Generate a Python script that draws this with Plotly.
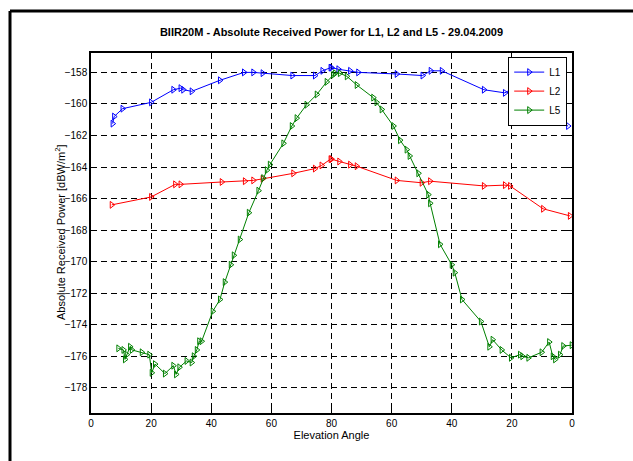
import plotly.graph_objects as go

# Pass axis: 0..80 rising elevation, 80..160 setting elevation
tick_pos = [0, 20, 40, 60, 80, 100, 120, 140, 160]
tick_txt = ["0", "20", "40", "60", "80", "60", "40", "20", "0"]
y_ticks = [-158, -160, -162, -164, -166, -168, -170, -172, -174, -176, -178]

l1_x = [7.2, 7.7, 10.5, 20.0, 27.4, 29.8, 30.7, 33.5, 42.9, 50.9, 54.0, 57.1, 67.0,
        74.5, 77.0, 79.7, 80.0, 82.3, 86.2, 88.9, 101.7, 110.3, 113.0, 116.7, 130.7,
        137.7, 139.4, 142.7, 150.8, 158.7]
l1_y = [-161.25, -160.8, -160.3, -159.9, -159.1, -159.0, -159.1, -159.2, -158.5, -158.0,
        -158.0, -158.05, -158.2, -158.2, -157.9, -157.7, -157.7, -157.8, -157.9, -158.0,
        -158.1, -158.2, -157.9, -157.9, -159.1, -159.3, -159.1, -159.8, -160.8, -161.4]

l2_x = [6.9, 20.0, 28.0, 29.8, 43.5, 51.2, 54.0, 57.1, 67.3, 74.5, 76.7, 79.7, 80.0,
        82.6, 86.2, 88.4, 101.7, 110.0, 112.8, 130.7, 137.7, 139.4, 150.4, 159.3]
l2_y = [-166.4, -165.9, -165.1, -165.1, -164.95, -164.9, -164.85, -164.75, -164.4,
        -164.1, -163.9, -163.5, -163.5, -163.65, -163.85, -163.95, -164.85, -165.0,
        -164.9, -165.2, -165.15, -165.2, -166.65, -167.1]

l5_x = [9.1, 10.8, 11.3, 11.9, 13.0, 13.6, 16.9, 19.4, 20.2, 21.3, 24.6, 27.4, 28.3,
        29.4, 31.8, 33.5, 34.2, 35.2, 36.0, 36.8, 40.5, 42.9, 44.5, 46.5, 47.5, 49.5,
        52.5, 55.7, 57.3, 58.5, 59.5, 64.0, 66.8, 68.4, 71.7, 75.1, 78.4, 80.6, 81.2,
        82.8, 85.1, 88.4, 93.9, 95.0, 96.7, 100.6, 102.8, 105.0, 106.0, 108.9, 112.2,
        112.8, 116.1, 120.0, 121.0, 123.4, 129.7, 132.5, 133.6, 136.6, 139.7, 142.7,
        143.5, 145.5, 149.9, 152.4, 153.6, 154.4, 156.0, 157.1, 159.9]
l5_y = [-175.5, -175.6, -176.2, -175.9, -175.4, -175.6, -175.75, -175.9, -177.05,
        -176.5, -177.1, -176.6, -177.15, -176.7, -176.3, -176.4, -176.0, -175.6,
        -175.05, -175.05, -173.15, -172.4, -171.3, -170.2, -169.6, -168.6, -166.9,
        -165.5, -164.7, -164.2, -163.85, -162.5, -161.4, -160.9, -160.05, -159.4,
        -158.6, -158.15, -158.05, -158.05, -158.25, -158.8, -159.6, -159.9, -160.35,
        -161.4, -162.3, -162.9, -163.3, -164.4, -165.75, -166.3, -168.9, -170.2,
        -170.7, -172.4, -173.8, -175.4, -174.95, -175.6, -176.1, -175.9, -176.0,
        -176.1, -175.75, -175.1, -176.0, -176.2, -175.9, -175.35, -175.3]

series = [
    ("L1", l1_x, l1_y, "#0000ff"),
    ("L2", l2_x, l2_y, "#ff0000"),
    ("L5", l5_x, l5_y, "#008000"),
]

fig = go.Figure()
for name, xs, ys, col in series:
    fig.add_trace(go.Scatter(
        x=xs, y=ys, name=name, mode="lines+markers",
        line=dict(color=col, width=1),
        marker=dict(symbol="triangle-right-open", size=6, color=col,
                    line=dict(color=col, width=1)),
    ))

font = "Liberation Sans, Arial, sans-serif"
axis_common = dict(
    showline=True, linecolor="black", linewidth=1.5, mirror="ticks",
    ticks="inside", ticklen=5, tickcolor="black", tickwidth=1,
    showgrid=True, gridcolor="#000000", gridwidth=1, griddash="6px,4px",
    zeroline=False, tickfont=dict(family=font, size=10, color="black"),
)

fig.update_layout(
    width=633, height=461,
    margin=dict(l=91, r=61, t=53, b=48),
    paper_bgcolor="white", plot_bgcolor="white",
    font=dict(family=font, size=10, color="black"),
    title=dict(text="<b>BIIR20M - Absolute Received Power for L1, L2 and L5 - 29.04.2009</b>",
               x=0.5, xref="paper", xanchor="center", y=1 - 32 / 461, yanchor="middle",
               font=dict(family=font, size=11, color="black")),
    xaxis=dict(range=[0, 160], tickvals=tick_pos, ticktext=tick_txt,
               title=dict(text="Elevation Angle", standoff=2,
                          font=dict(family=font, size=11)),
               **axis_common),
    yaxis=dict(range=[-179.6, -156.77], tickvals=y_ticks, **axis_common),
    legend=dict(x=0.99, y=0.99, xanchor="right", yanchor="top",
                bgcolor="white", bordercolor="black", borderwidth=1,
                font=dict(family=font, size=10), tracegroupgap=0,
                itemwidth=30),
    showlegend=True,
)

# y-axis label
fig.add_annotation(text="Absolute Received Power [dBW/m<sup>2</sup>]",
                   xref="paper", yref="paper", x=(60 - 91) / 481, y=0.5,
                   xanchor="center", yanchor="middle", textangle=-90, showarrow=False,
                   font=dict(family=font, size=11, color="black"))

# figure frame (left and top edges)
fig.add_shape(type="line", xref="paper", yref="paper",
              x0=(10 - 91) / 481, x1=(10 - 91) / 481, y0=1 + (53 - 11) / 360, y1=-0.2,
              line=dict(color="black", width=3))
fig.add_shape(type="line", xref="paper", yref="paper",
              x0=(10 - 91) / 481, x1=1.2, y0=1 + (53 - 11) / 360, y1=1 + (53 - 11) / 360,
              line=dict(color="black", width=3))

fig.write_html("out.html")
